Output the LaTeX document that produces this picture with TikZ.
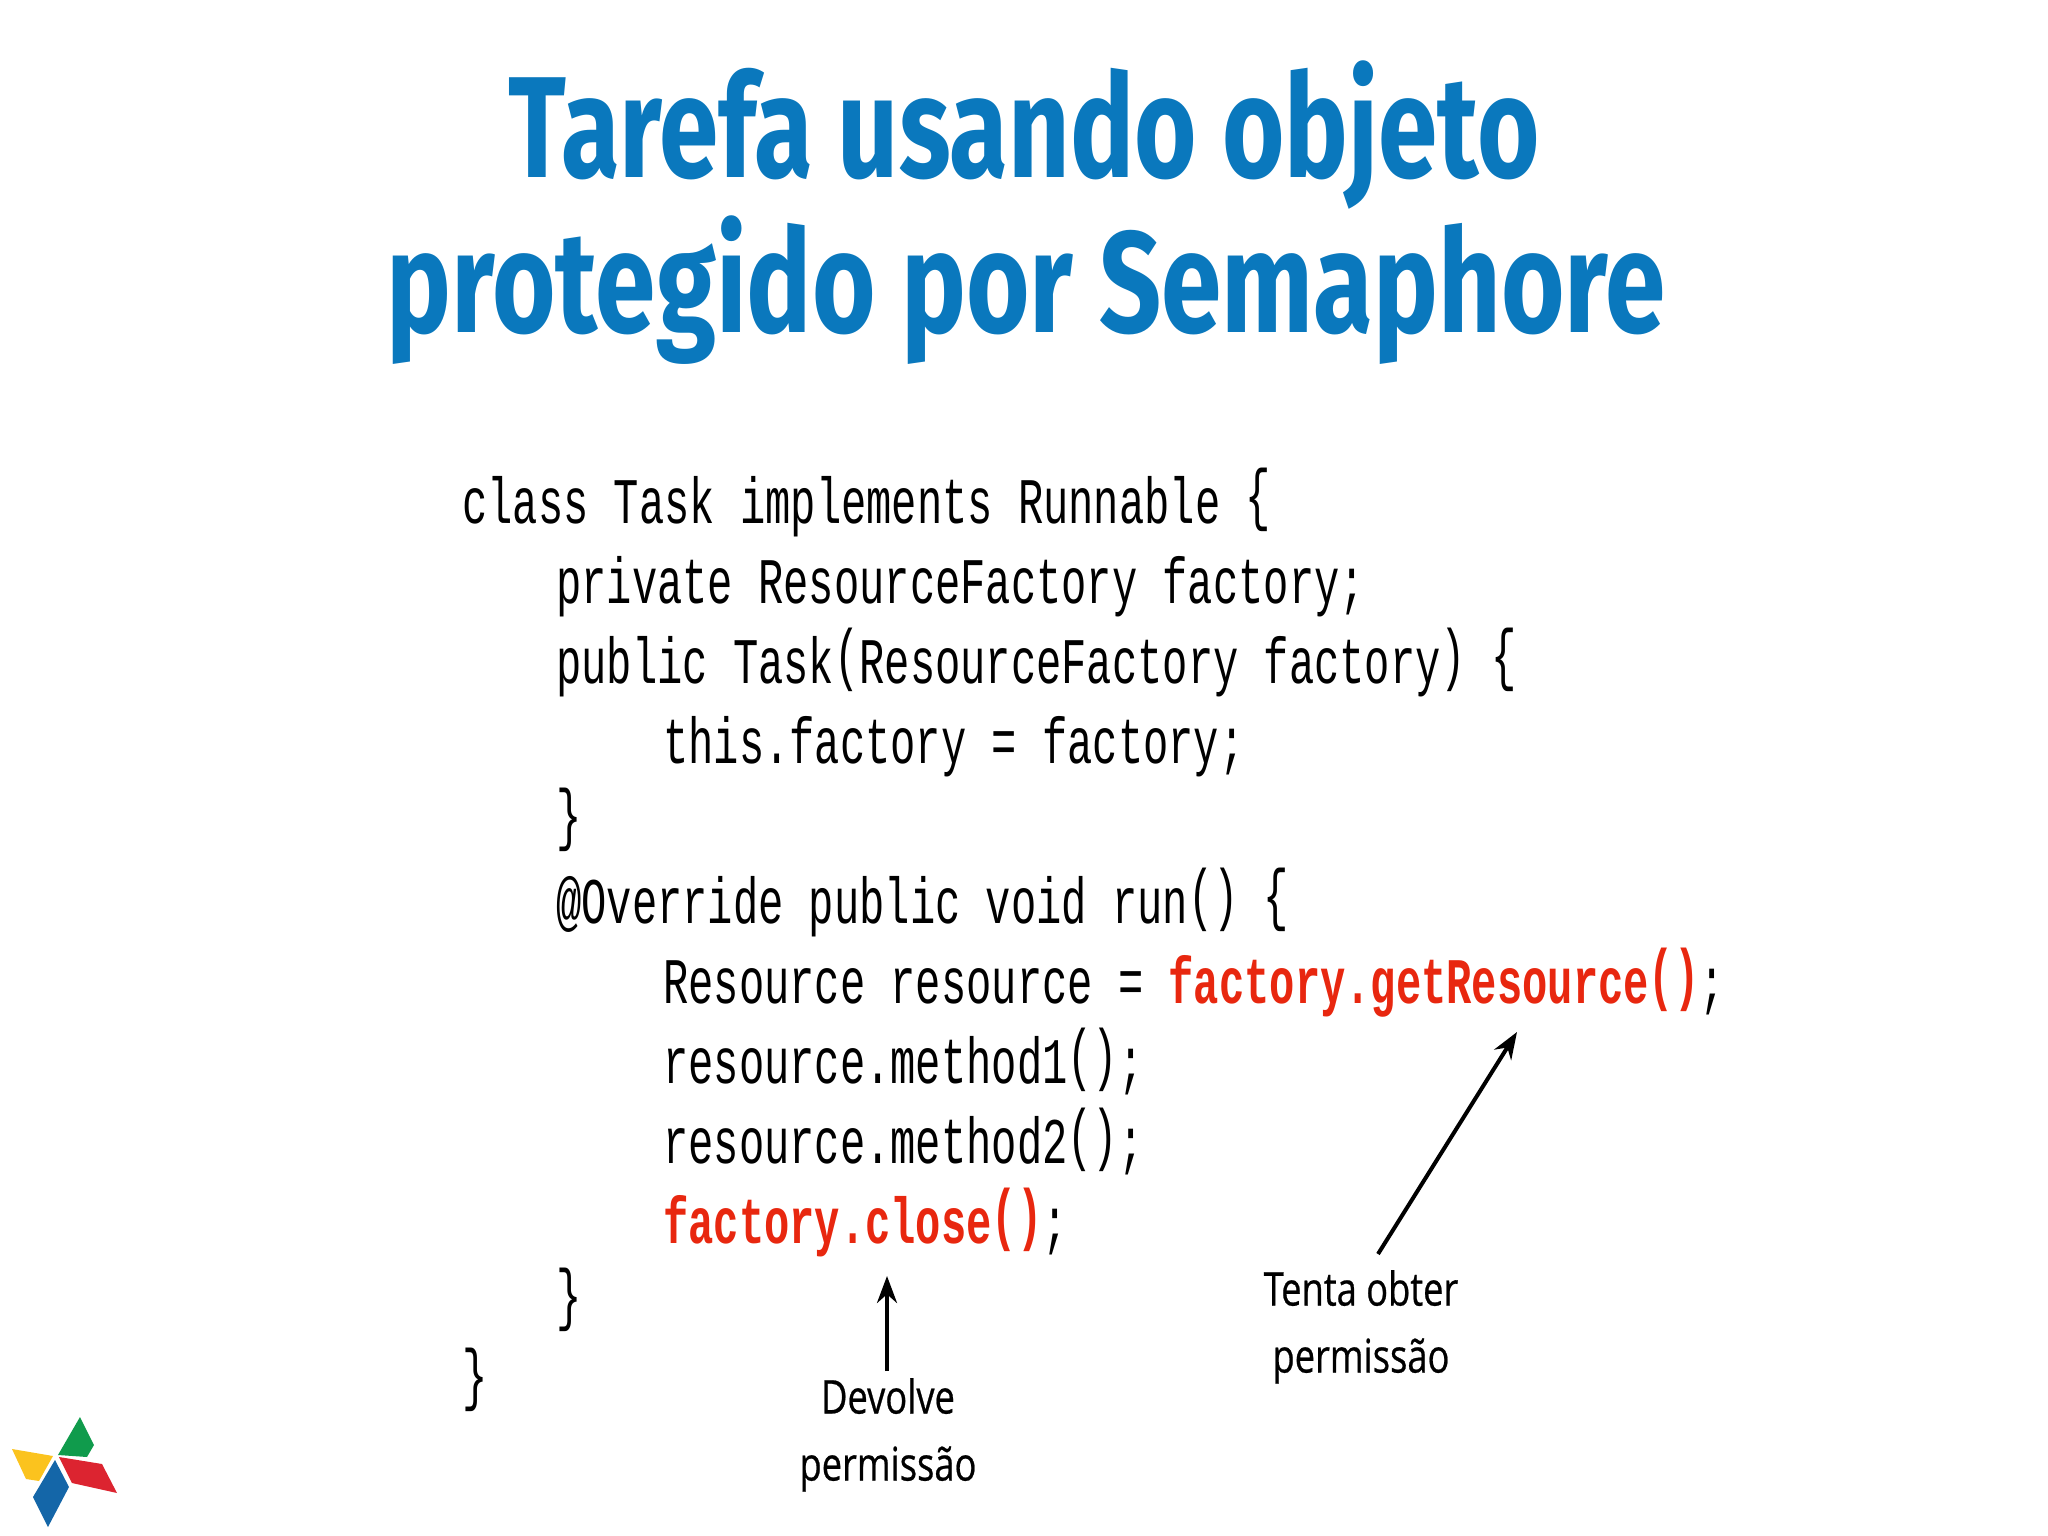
\documentclass[tikz,border=0pt]{standalone}
\usepackage{fontspec}
\usepackage{graphicx}
\setmainfont{Liberation Sans}
\newfontfamily\titlefontA[FakeStretch=0.743]{Fira Sans}
\newfontfamily\titlefontB[FakeStretch=0.756]{Fira Sans}
\newfontfamily\codefont[FakeStretch=0.648]{Liberation Mono}
\newfontfamily\labelfont[FakeStretch=0.78,FakeBold=0.5]{Open Sans}
\definecolor{titleblue}{HTML}{0A78BD}
\definecolor{codered}{HTML}{E8270F}
\definecolor{lgreen}{HTML}{109B4C}
\definecolor{lyellow}{HTML}{FBC31E}
\definecolor{lred}{HTML}{DC2430}
\definecolor{lblue}{HTML}{1466A8}
\newcommand{\tall}[1]{\raisebox{0.08em}{\scalebox{1}[1.05]{#1}}}
\newcommand{\redc}[1]{{\color{codered}\bfseries #1}}
\usetikzlibrary{arrows.meta}
\tikzset{
  titletext/.style={text=titleblue,anchor=base,inner sep=0pt},
  codeline/.style={font=\codefont\fontsize{65}{65}\selectfont,anchor=base west,inner sep=0pt},
  lab/.style={font=\labelfont\fontsize{46.5}{67}\selectfont,align=center,anchor=north,inner sep=0pt},
  callout/.style={draw=black,line width=4pt,-{Stealth[length=27pt,width=20pt]}},
}
\begin{document}
\begin{tikzpicture}[x=1pt,y=-1pt]
\useasboundingbox (0,0) rectangle (2048,1536);
\node[titletext,font=\titlefontA\bfseries\fontsize{144}{144}\selectfont] (t1) at (1024,178) {Tarefa usando objeto};
\node[titletext,font=\titlefontB\bfseries\fontsize{144}{144}\selectfont] (t2) at (1026,332) {protegido por Semaphore};
\node[codeline] (c1) at (462,523) {class Task implements Runnable \tall{\{}};
\node[codeline] (c2) at (556,603) {private ResourceFactory factory;};
\node[codeline] (c3) at (556,683) {public Task\tall{(}ResourceFactory factory\tall{)} \tall{\{}};
\node[codeline] (c4) at (663,763) {this.factory = factory;};
\node[codeline] (c5) at (556,843) {\tall{\}}};
\node[codeline] (c6) at (556,923) {@Override public void run\tall{(}\tall{)} \tall{\{}};
\node[codeline] (c7) at (663,1003) {Resource resource = \redc{factory.getResource\tall{(}\tall{)}};};
\node[codeline] (c8) at (663,1083) {resource.method1\tall{(}\tall{)};};
\node[codeline] (c9) at (663,1163) {resource.method2\tall{(}\tall{)};};
\node[codeline] (c10) at (663,1243) {\redc{factory.close\tall{(}\tall{)}};};
\node[codeline] (c11) at (556,1323) {\tall{\}}};
\node[codeline] (c12) at (462,1403) {\tall{\}}};
\node[lab] (tenta) at (1361,1270) {Tenta obter\\permissão};
\node[lab] (devolve) at (888,1378) {Devolve\\permissão};
\coordinate (headget) at (1517,1032);
\coordinate (headclose) at (887,1276);
\draw[callout] ([xshift=17pt,yshift=16pt]tenta.north) -- (headget);
\draw[callout] ([xshift=-1pt,yshift=7pt]devolve.north) -- (headclose);
\fill[lgreen] (80,1417) -- (94,1445) -- (87,1457) -- (58,1455) -- cycle;
\fill[lyellow] (12,1449) -- (53,1456) -- (39,1481) -- (26,1479) -- cycle;
\fill[lred] (59,1457) -- (102,1464) -- (117,1493) -- (72,1483) -- cycle;
\fill[lblue] (55,1460) -- (69,1487) -- (48,1527) -- (33,1497) -- cycle;
\end{tikzpicture}
\end{document}
